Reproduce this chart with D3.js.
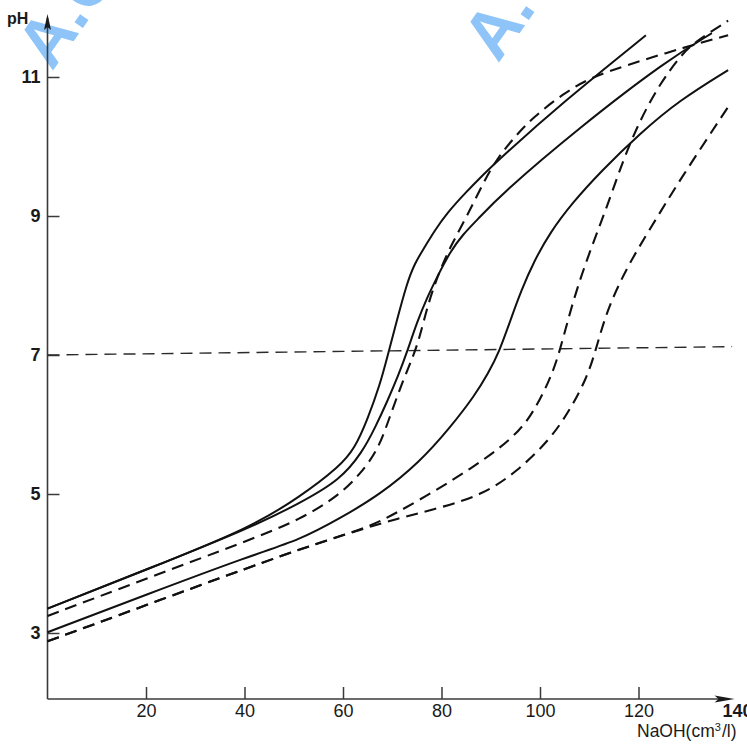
<!DOCTYPE html>
<html>
<head>
<meta charset="utf-8">
<script src="https://cdn.jsdelivr.net/npm/d3@7"></script>
<style>
  html, body { margin: 0; padding: 0; background: #fff; }
  svg { display: block; }
  text { font-family: "Liberation Sans", Arial, Helvetica, sans-serif; fill: #1a1a1a; }
</style>
</head>
<body>
<svg id="chart" width="747" height="744"></svg>
<script>
// ---------- data (NaOH volume cm3/l, pH) ----------
const solid1 = [[0,3.35],[20,3.91],[41.1,4.51],[51.3,4.96],[59.4,5.40],[62.4,5.66],[64.9,6.06],[67.5,6.57],[69.1,7.0],[70.95,7.5],[73,8.04],[74.6,8.32],[76.2,8.51],[78.7,8.80],[81.1,9.04],[84.8,9.33],[88.4,9.59],[91.9,9.83],[104.7,10.64],[121.5,11.6]];
const solid2 = [[0,3.35],[20,3.91],[41.1,4.51],[51.3,4.87],[59.4,5.20],[63.9,5.60],[66.5,5.95],[69.1,6.35],[71.2,6.70],[73,7.04],[75,7.47],[77.1,7.83],[79.1,8.12],[81.7,8.48],[84.4,8.74],[87.2,8.94],[91.9,9.30],[108.1,10.28],[125.8,11.24],[134.9,11.63]];
const solid3 = [[0,3.01],[20,3.55],[41.1,4.11],[51.3,4.34],[59.4,4.65],[67.5,4.99],[75.6,5.46],[81.7,5.95],[86.8,6.42],[89.5,6.74],[91.7,7.04],[94,7.5],[96.2,7.93],[98.8,8.35],[102,8.76],[106.7,9.2],[112.2,9.63],[120.3,10.19],[128.4,10.67],[138.2,11.1]];
const dashed1 = [[0,3.245],[20,3.78],[41.1,4.34],[51.3,4.63],[59.4,4.99],[63.5,5.29],[67.1,5.63],[69.5,6.11],[72,6.6],[74.2,6.97],[75.6,7.26],[77.1,7.69],[79.1,8.12],[81.7,8.55],[85.2,9.0],[88.4,9.47],[91.3,9.83],[95,10.15],[98.6,10.42],[104.7,10.76],[110.2,10.99],[117.6,11.17],[125.8,11.35],[132.5,11.49],[138.2,11.6]];
const dashed2 = [[0,2.88],[20,3.4],[41.1,3.95],[54.7,4.29],[65.5,4.53],[70.9,4.73],[79.1,5.06],[86,5.37],[91.9,5.66],[95.9,5.92],[98.6,6.17],[102,6.64],[104,7.04],[106.7,7.79],[110.2,8.51],[113.6,9.13],[116.9,9.81],[120.3,10.38],[124.4,10.91],[128.4,11.29],[131.1,11.49],[138.2,11.81]];
const dashed3 = [[0,2.88],[20,3.4],[41.1,3.95],[54.7,4.29],[65.5,4.53],[70.2,4.63],[79.7,4.80],[88.4,4.99],[95.3,5.32],[102,5.78],[106.1,6.21],[109.5,6.67],[111.2,7.04],[113.6,7.65],[117.7,8.27],[122.3,8.81],[128.4,9.52],[138.2,10.57]];
const neutralLine = [[0,7.0],[139,7.12]];

const xTicks = [20,40,60,80,100,120,140];
const yTicks = [3,5,7,9,11];
const xExtent = [0,139.5];
const yExtent = [2.05,11.85];
const xTitle = ["NaOH(cm","3","/l)"];
const yTitle = "pH";
const watermark = "A.C";

// ---------- scales ----------
const svg = d3.select("#chart");
const x = d3.scaleLinear().domain([0,140]).range([47.5,737]);
const y = d3.scaleLinear().domain([3,11]).range([633,77]);

// watermark
[[52,72],[498,64]].forEach(p => {
  svg.append("text")
    .attr("transform", `translate(${p[0]},${p[1]}) rotate(-55)`)
    .attr("font-size", 68).attr("font-weight", "bold")
    .style("fill", "#8ec4f8")
    .text(watermark);
});

// ---------- axes ----------
const axisColor = "#3a3a3a";
svg.append("line")
  .attr("x1", x(0)).attr("x2", x(0))
  .attr("y1", y(yExtent[0])).attr("y2", y(yExtent[1]))
  .attr("stroke", axisColor).attr("stroke-width", 1.6);
svg.append("line")
  .attr("x1", x(0)).attr("x2", x(xExtent[1]) - 10)
  .attr("y1", y(yExtent[0])).attr("y2", y(yExtent[0]))
  .attr("stroke", axisColor).attr("stroke-width", 1.6);
const ax = x(xExtent[1]), ay = y(yExtent[0]);
svg.append("path")
  .attr("d", `M${ax},${ay} L${ax-20},${ay-3.5} L${ax-16},${ay} L${ax-20},${ay+3.5} Z`)
  .attr("fill", "#1a1a1a");
const tx = x(0), ty = y(yExtent[1]);
svg.append("path")
  .attr("d", `M${tx},${ty-4} L${tx-3.5},${ty+12} L${tx},${ty+9} L${tx+3.5},${ty+12} Z`)
  .attr("fill", "#1a1a1a");

const gx = svg.append("g")
  .attr("transform", `translate(0,${y(yExtent[0])})`)
  .call(d3.axisBottom(x).tickValues(xTicks).tickSizeInner(-12).tickSizeOuter(0).tickPadding(5));
gx.select(".domain").remove();
gx.selectAll(".tick line").attr("stroke", axisColor).attr("stroke-width", 1.5);
gx.selectAll(".tick").filter(d => d === 140).select("line").remove();
gx.selectAll(".tick text").attr("font-size", 18).style("fill", "#1a1a1a")
  .attr("font-family", "Liberation Sans, Arial, sans-serif")
  .attr("font-weight", d => d === 140 ? "bold" : "normal");

const gy = svg.append("g")
  .attr("transform", `translate(${x(0)},0)`)
  .call(d3.axisLeft(y).tickValues(yTicks).tickSizeInner(-12).tickSizeOuter(0).tickPadding(7));
gy.select(".domain").remove();
gy.selectAll(".tick line").attr("stroke", axisColor).attr("stroke-width", 1.5);
gy.selectAll(".tick text").attr("font-size", 18).attr("font-weight", "bold").style("fill", "#1a1a1a")
  .attr("font-family", "Liberation Sans, Arial, sans-serif");

svg.append("text").attr("x", 7).attr("y", 24)
  .attr("font-size", 16).attr("font-weight", "bold").text(yTitle);

const xt = svg.append("text").attr("x", 637).attr("y", 737)
  .attr("text-anchor", "start").attr("font-size", 17.5);
xt.append("tspan").text(xTitle[0]);
xt.append("tspan").attr("dy", -6).attr("font-size", 11).text(xTitle[1]);
xt.append("tspan").attr("dy", 6).attr("dx", 1).text(xTitle[2]);

// ---------- curves ----------
const line = d3.line().x(d => x(d[0])).y(d => y(d[1])).curve(d3.curveBasis);
const lineStraight = d3.line().x(d => x(d[0])).y(d => y(d[1]));

svg.append("path").datum(neutralLine).attr("d", lineStraight)
  .attr("fill", "none").attr("stroke", "#2a2a2a").attr("stroke-width", 1.4)
  .attr("stroke-dasharray", "12,7");

[solid1, solid2, solid3].forEach(s => {
  svg.append("path").datum(s).attr("d", line)
    .attr("fill", "none").attr("stroke", "#111").attr("stroke-width", 2);
});
[dashed1, dashed2, dashed3].forEach(s => {
  svg.append("path").datum(s).attr("d", line)
    .attr("fill", "none").attr("stroke", "#111").attr("stroke-width", 2.1)
    .attr("stroke-dasharray", "12,7");
});
</script>
</body>
</html>
